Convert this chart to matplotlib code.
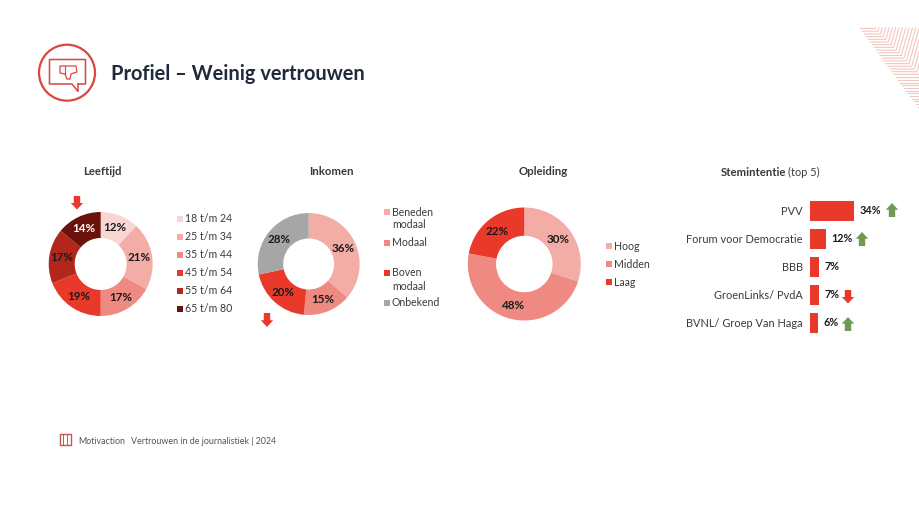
import matplotlib
matplotlib.use("Agg")
import matplotlib.pyplot as plt
from matplotlib.patches import Circle, Polygon, Rectangle

W = 920
H = 518

RED = "#E8392B"
GREEN = "#6F9A55"
DARK = "#1F2A3C"
TXT = "#3A3A3A"

age_labels = ["18 t/m 24", "25 t/m 34", "35 t/m 44", "45 t/m 54", "55 t/m 64", "65 t/m 80"]
age_values = [12, 21, 17, 19, 17, 14]
age_colors = ["#F9D5D3", "#F4ACA7", "#EF8A82", "#E8392B", "#B3261C", "#6B120C"]

income_labels = ["Beneden\nmodaal", "Modaal", "Boven\nmodaal", "Onbekend"]
income_values = [36, 15, 20, 28]
income_colors = ["#F4ACA7", "#EF8A82", "#E8392B", "#A6A6A6"]

edu_labels = ["Hoog", "Midden", "Laag"]
edu_values = [30, 48, 22]
edu_colors = ["#F4ACA7", "#EF8A82", "#E8392B"]

party_labels = ["PVV", "Forum voor Democratie", "BBB", "GroenLinks/ PvdA", "BVNL/ Groep Van Haga"]
party_values = [34, 12, 7, 7, 6]

plt.rcParams["font.family"] = ["Lato", "DejaVu Sans"]

fig = plt.figure(figsize=(W / 100, H / 100), dpi=100, facecolor="white")

# full page axes in pixels for everything that is not a chart
page = fig.add_axes([0, 0, 1, 1])
page.set_xlim(0, W)
page.set_ylim(H, 0)
page.axis("off")


def donut(cx, cy, r, values, colors, white=()):
    ax = fig.add_axes([(cx - r) / W, 1 - (cy + r) / H, 2 * r / W, 2 * r / H])
    wedges, texts, pcts = ax.pie(values, colors=colors, startangle=90, counterclock=False,
                                 radius=1, wedgeprops={"width": 0.5}, autopct="%.0f%%",
                                 pctdistance=0.75)
    ax.set_xlim(-1, 1)
    ax.set_ylim(-1, 1)
    for i, t in enumerate(pcts):
        t.set_fontsize(8.4)
        t.set_fontweight("bold")
        t.set_color("white" if i in white else "#1A1A1A")


def arrow(x, top, bottom, color):
    # arrow from top to bottom, the head sits at the bottom end
    hw = 6.2
    sw = 3.2
    mid = top + (bottom - top) * 0.52
    page.add_patch(Polygon([(x - sw, top), (x + sw, top), (x + sw, mid), (x + hw, mid),
                            (x, bottom), (x - hw, mid), (x - sw, mid)], color=color, lw=0))


def legend(sq_x, txt_x, ys, labels, colors):
    for y, lab, c in zip(ys, labels, colors):
        page.add_patch(Rectangle((sq_x, y - 3.2), 6.4, 6.4, color=c, lw=0))
        page.text(txt_x, y, lab, fontsize=7.6, color=TXT, va="center", ha="left")


donut(100.7, 264, 52, age_values, age_colors, white=(5,))
donut(308.7, 264, 51, income_values, income_colors)
donut(524.3, 264, 56.5, edu_values, edu_colors)

legend(177, 185, [218.7, 237, 255, 273, 291, 309], age_labels, age_colors)
# wrapped labels get their own line spacing, so they go in line by line
page.add_patch(Rectangle((384, 209), 6.4, 6.4, color=income_colors[0], lw=0))
page.text(392, 212, "Beneden", fontsize=7.6, color=TXT, va="center")
page.text(392, 224.5, "modaal", fontsize=7.6, color=TXT, va="center")
page.add_patch(Rectangle((384, 239.5), 6.4, 6.4, color=income_colors[1], lw=0))
page.text(392, 242.7, "Modaal", fontsize=7.6, color=TXT, va="center")
page.add_patch(Rectangle((384, 270), 6.4, 6.4, color=income_colors[2], lw=0))
page.text(392, 272.7, "Boven", fontsize=7.6, color=TXT, va="center")
page.text(392, 286, "modaal", fontsize=7.6, color=TXT, va="center")
page.add_patch(Rectangle((384, 300), 6.4, 6.4, color=income_colors[3], lw=0))
page.text(392, 303, "Onbekend", fontsize=7.6, color=TXT, va="center")
legend(606, 614, [246, 264, 282], edu_labels, edu_colors)

# bars, 1.3 px for one percent
ax = fig.add_axes([810 / W, 1 - 337 / H, 100 / W, 140.4 / H])
ax.patch.set_alpha(0)
ax.barh(range(len(party_values)), party_values, height=0.71, color=RED)
ax.set_xlim(0, 100 / 1.3)
ax.set_ylim(4.5, -0.5)
ax.set_yticks(range(len(party_labels)))
ax.set_yticklabels(party_labels, fontsize=7.9, color=TXT)
ax.set_xticks([])
ax.tick_params(axis="y", length=0, pad=5.2)
for s in ax.spines.values():
    s.set_visible(False)
for i, v in enumerate(party_values):
    ax.annotate(str(v) + "%", (v, i), xytext=(4.0, 0), textcoords="offset points",
                fontsize=7.8, fontweight="bold", color="#1A1A1A", va="center", ha="left")

arrow(77, 196, 209.5, RED)
arrow(267, 313, 327, RED)
arrow(892, 217, 203, GREEN)
arrow(862, 246, 232, GREEN)
arrow(848, 290, 303.5, RED)
arrow(848, 331, 317, GREEN)

# headers
for x, s in [(102, "Leeftijd"), (331, "Inkomen"), (543, "Opleiding")]:
    page.text(x, 171.5, s, fontsize=8.2, fontweight="bold", color=TXT, ha="center", va="center")
page.text(721, 172.5, "Stemintentie", fontsize=8.2, fontweight="bold", color=TXT, va="center")
page.text(788, 172.5, "(top 5)", fontsize=7.9, color=TXT, va="center")

# title and icon
page.text(111, 73.5, "Profiel – Weinig vertrouwen", fontsize=14.4, fontweight="bold", color=DARK, va="center")
ICON = "#D9473E"
page.add_patch(Circle((67, 72.7), 28, fill=False, ec=ICON, lw=1.6))
page.plot([78, 78, 72, 49.5, 49.5, 85.5, 85.5, 78.5], [84, 91.5, 84, 84, 59.5, 59.5, 84, 84], color=ICON, lw=1.1)
page.add_patch(Polygon([(60, 66), (65, 66), (76, 66), (77, 72), (71, 74), (70, 79), (67, 79), (65, 74), (60, 73)],
                       fill=False, ec=ICON, lw=0.9))
page.plot([65, 65], [66, 74], color=ICON, lw=0.8)

# footer
page.add_patch(Rectangle((60, 434), 11, 11, fill=False, ec="#C9564E", lw=1))
page.plot([63.5, 63.5], [435, 444], color="#C9564E", lw=0.7)
page.plot([67, 67], [435, 444], color="#C9564E", lw=0.7)
page.text(78, 441, "Motivaction", fontsize=6.4, color="#555555", va="center")
page.text(131, 441, "Vertrouwen in de journalistiek | 2024", fontsize=6.4, color="#555555", va="center")

# chevron pattern top right
y = 28.5
while y < 110:
    x0 = 860 + (y - 28) * 60 / 82
    knee = 875 + (y - 28) * 45 / 47
    page.plot([x0, knee, knee + (y - 28) * 0.28], [y, y, 28], color="#F4C6C1", lw=0.8)
    y += 2.7

fig.savefig("out.png", dpi=100)
